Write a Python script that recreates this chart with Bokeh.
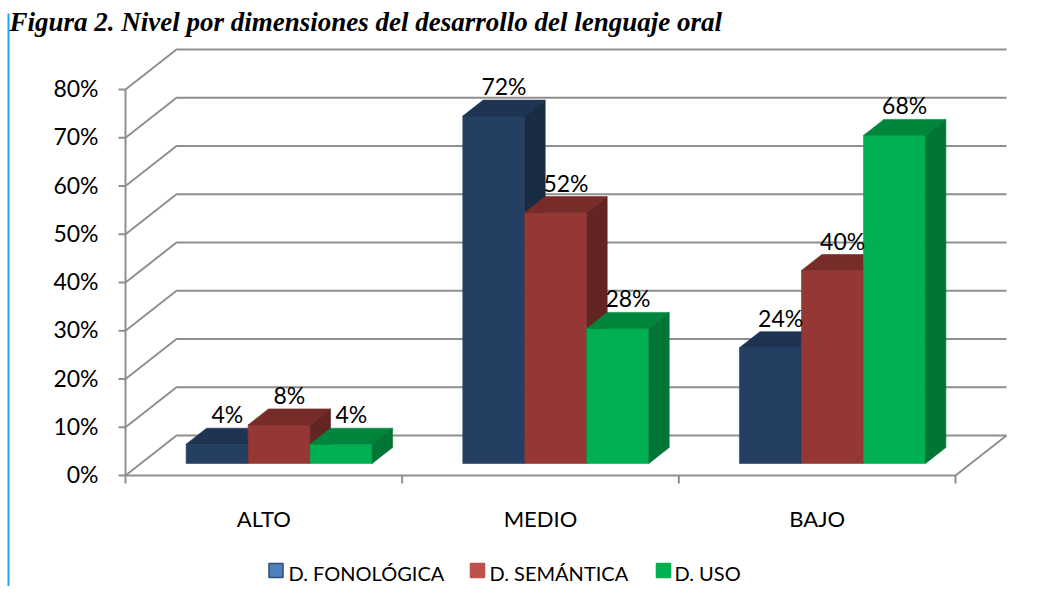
from bokeh.plotting import figure
from bokeh.models import ColumnDataSource, Range1d
from bokeh.core.properties import value
from bokeh.embed import file_html
from bokeh.resources import INLINE

# ---------------- data ----------------
categories = ["ALTO", "MEDIO", "BAJO"]
series_names = ["D. FONOLÓGICA", "D. SEMÁNTICA", "D. USO"]
fonologica = [4, 72, 24]
semantica = [8, 52, 40]
uso = [4, 28, 68]
y_ticks = [0, 10, 20, 30, 40, 50, 60, 70, 80]
y_tick_labels = ["0%", "10%", "20%", "30%", "40%", "50%", "60%", "70%", "80%"]
title_text = "Figura 2. Nivel por dimensiones del desarrollo del lenguaje oral"

# ---------------- styles ----------------
front_colors = ["#243F61", "#953735", "#00B050"]
top_colors = ["#1F3452", "#772C2A", "#00863C"]
side_colors = ["#1A2B44", "#632523", "#007534"]
legend_fill = ["#4F81BD", "#C0504D", "#00B050"]
legend_line = ["#2C4D75", "#C0504D", "#00B050"]
grid_color = "#8F8F8F"
FONT = "Lato"

W, H = 1036, 586
ORIGIN_X, ORIGIN_Y = 125.0, 475.0      # pixel of (category 0, 0%) on the front plane
SX = (955.0 - 125.0) / 3.0             # px per category
SY = (475.0 - 89.0) / 80.0             # px per percent
DX = 51.0 / SX                          # depth offset (data units)
DY = 40.0 / SY


def X(px):
    return (px - ORIGIN_X) / SX


def Y(py):
    return (ORIGIN_Y - py) / SY


p = figure(width=W, height=H,
           x_range=Range1d(X(0), X(W)), y_range=Range1d(Y(H), Y(0)),
           output_backend="svg", toolbar_location=None, min_border=0,
           x_axis_location=None, y_axis_location=None, outline_line_color=None)
p.grid.visible = False

n_cat = len(categories)

# ---------------- walls / grid ----------------
xs, ys = [], []
for t in y_ticks:
    xs.append([0, DX, n_cat + DX])
    ys.append([t, t + DY, t + DY])
    xs.append([X(118), 0])
    ys.append([t, t])
xs.append([0, 0]); ys.append([0, y_ticks[-1]])
xs.append([0, n_cat, n_cat + DX]); ys.append([0, 0, DY])
for i in range(n_cat + 1):
    xs.append([i, i]); ys.append([0, Y(483)])
p.multi_line(xs=xs, ys=ys, line_color=grid_color, line_width=2)

# ---------------- 3D bars ----------------
ZF, DZ = 0.3, 0.4
bw = 62.0 / SX
values = [fonologica, semantica, uso]
pxs, pys, pcol = [], [], []
lab_x, lab_y, lab_t = [], [], []
for i in range(n_cat):
    for j, vals in enumerate(values):
        v = vals[i]
        x0 = i + 0.5 - 1.5 * bw + j * bw + ZF * DX
        x1 = x0 + bw
        y0 = ZF * DY
        y1 = v + ZF * DY
        ex, ey = DZ * DX, DZ * DY
        pxs.append([x0, x1, x1, x0]); pys.append([y0, y0, y1, y1]); pcol.append(front_colors[j])
        pxs.append([x0, x1, x1 + ex, x0 + ex]); pys.append([y1, y1, y1 + ey, y1 + ey]); pcol.append(top_colors[j])
        pxs.append([x1, x1 + ex, x1 + ex, x1]); pys.append([y0, y0 + ey, y1 + ey, y1]); pcol.append(side_colors[j])
        lab_x.append((x0 + x1) / 2 + ex / 2)
        lab_y.append(y1 + ey + 14.0 / SY)
        lab_t.append(f"{v}%")

p.patches(xs="xs", ys="ys", fill_color="c", line_color="c", line_width=0.6,
          source=ColumnDataSource(dict(xs=pxs, ys=pys, c=pcol)))

p.text(x=lab_x, y=lab_y, text=lab_t, text_font=value(FONT), text_font_size="23px",
       text_align="center", text_baseline="middle", text_color="#000000")

# ---------------- axis labels ----------------
p.text(x=[X(98)] * len(y_ticks), y=[t + 0.3 for t in y_ticks], text=y_tick_labels,
       text_font=value(FONT), text_font_size="23px", text_align="right",
       text_baseline="middle", text_color="#000000")
p.text(x=[i + 0.5 for i in range(n_cat)], y=[Y(518)] * n_cat, text=categories,
       text_font=value(FONT), text_font_size="22px", text_align="center",
       text_baseline="middle", text_color="#000000")

# ---------------- legend ----------------
leg_sq_px = [275.5, 477.0, 663.0]
leg_tx_px = [288.0, 489.0, 674.0]
p.scatter(x=[X(v) for v in leg_sq_px], y=[Y(570)] * 3, marker="square", size=14,
          fill_color=legend_fill, line_color=legend_line, line_width=1.5)
p.text(x=[X(v) for v in leg_tx_px], y=[Y(572)] * 3, text=series_names,
       text_font=value(FONT), text_font_size="20px", text_align="left",
       text_baseline="middle", text_color="#000000")

# ---------------- title and left rule ----------------
p.segment(x0=[X(8)], y0=[Y(13)], x1=[X(8)], y1=[Y(H)], line_color="#1EAAE6", line_width=2)
p.text(x=[X(9)], y=[Y(21)], text=[title_text], text_font=value("Liberation Serif"),
       text_font_style="bold italic", text_font_size="27px", text_align="left",
       text_baseline="alphabetic", text_color="#000000")

open("out.html", "w").write(file_html(p, INLINE))
